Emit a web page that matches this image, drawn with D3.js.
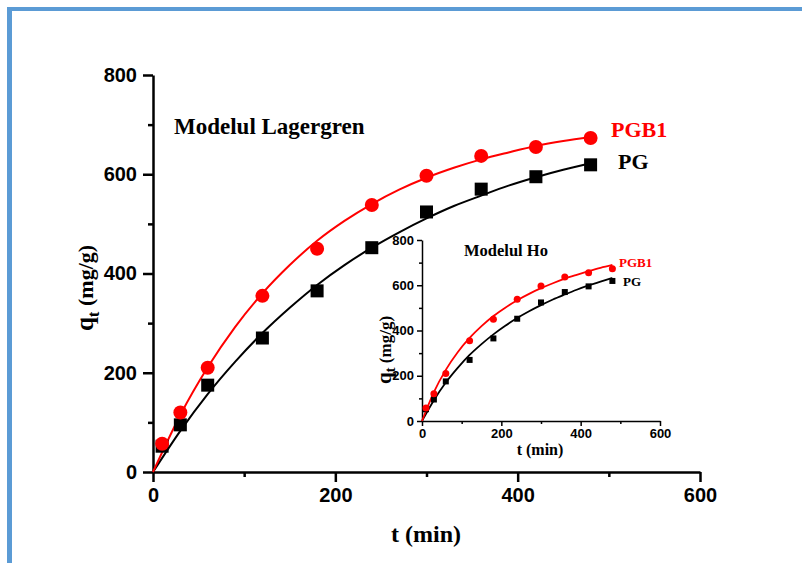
<!DOCTYPE html>
<html>
<head>
<meta charset="utf-8">
<script src="https://cdn.jsdelivr.net/npm/d3@7"></script>
<style>
  body { margin: 0; background: #fff; }
  svg { display: block; }
</style>
</head>
<body>
<svg width="802" height="563"></svg>
<script>
// experimental points (t in min, q in mg/g)
const tData = [10, 30, 60, 120, 180, 240, 300, 360, 420, 480];
const pgData = [52, 95, 175, 270, 365, 452, 524, 570, 595, 619];
const pgb1Data = [57, 120, 210, 355, 450, 538, 597, 637, 655, 673];

// fitted curves
const tFit = [0, 30, 60, 90, 120, 150, 180, 210, 240, 270, 300, 330, 360, 390, 420, 450, 480];
const pgLager = [0, 83, 157, 222, 280, 331, 377, 417, 452, 483, 511, 536, 557, 577, 594, 609, 622];
const pgb1Lager = [0, 115, 211, 292, 360, 417, 466, 506, 540, 569, 593, 613, 630, 644, 657, 667, 675];
const pgHo = [0, 92, 170, 235, 292, 340, 383, 421, 455, 485, 512, 537, 559, 580, 599, 616, 632];
const pgb1Ho = [0, 128, 226, 304, 367, 419, 464, 501, 534, 562, 587, 609, 629, 646, 662, 677, 690];

const xTicks = [0, 200, 400, 600];
const xMinor = [100, 300, 500];
const yTicks = [0, 200, 400, 600, 800];
const yMinor = [100, 300, 500, 700];

const svg = d3.select('svg');

// blue frame on top and left
svg.append('rect').attr('x', 7).attr('y', 7).attr('width', 795).attr('height', 4).attr('fill', '#5b9bd5');
svg.append('rect').attr('x', 7).attr('y', 7).attr('width', 5).attr('height', 556).attr('fill', '#5b9bd5');

function drawPanel(g, o) {
    const x = d3.scaleLinear().domain([0, 600]).range([o.x0, o.x1]);
    const y = d3.scaleLinear().domain([0, 800]).range([o.y0, o.y1]);

    // minor ticks
    g.append('g')
        .attr('transform', `translate(0, ${o.y0})`)
        .call(d3.axisBottom(x).tickValues(xMinor).tickSize(o.minor).tickFormat(''))
        .call(a => a.select('.domain').remove())
        .call(a => a.selectAll('line').attr('stroke-width', o.sw));
    g.append('g')
        .attr('transform', `translate(${o.x0}, 0)`)
        .call(d3.axisLeft(y).tickValues(yMinor).tickSize(o.minor).tickFormat(''))
        .call(a => a.select('.domain').remove())
        .call(a => a.selectAll('line').attr('stroke-width', o.sw));

    const xa = g.append('g')
        .attr('transform', `translate(0, ${o.y0})`)
        .call(d3.axisBottom(x).tickValues(xTicks).tickSizeInner(o.major).tickSizeOuter(0).tickPadding(o.pad));
    const ya = g.append('g')
        .attr('transform', `translate(${o.x0}, 0)`)
        .call(d3.axisLeft(y).tickValues(yTicks).tickSizeInner(o.major).tickSizeOuter(0).tickPadding(o.pad));
    [xa, ya].forEach(a => {
        a.select('.domain').attr('stroke-width', o.sw).attr('stroke', '#000');
        a.selectAll('line').attr('stroke-width', o.sw).attr('stroke', '#000');
        a.selectAll('text')
            .attr('font-family', 'Liberation Sans, Arial, sans-serif')
            .attr('font-weight', 'bold')
            .attr('font-size', o.tickFont)
            .attr('fill', '#000');
    });

    const line = d3.line().x((d, i) => x(tFit[i])).y(d => y(d)).curve(d3.curveMonotoneX);
    g.append('path').datum(o.pgFit).attr('d', line)
        .attr('fill', 'none').attr('stroke', '#000').attr('stroke-width', o.lw);
    g.append('path').datum(o.pgb1Fit).attr('d', line)
        .attr('fill', 'none').attr('stroke', '#ff0000').attr('stroke-width', o.lw);

    g.selectAll('.sq').data(pgData).enter().append('rect')
        .attr('x', (d, i) => x(tData[i]) - o.sq / 2)
        .attr('y', d => y(d) - o.sq / 2)
        .attr('width', o.sq).attr('height', o.sq)
        .attr('fill', '#000');
    g.selectAll('.ci').data(pgb1Data).enter().append('circle')
        .attr('cx', (d, i) => x(tData[i]))
        .attr('cy', d => y(d))
        .attr('r', o.r)
        .attr('fill', '#ff0000');
    return { x, y };
}

// main panel
const main = svg.append('g');
drawPanel(main, {
    x0: 153, x1: 700, y0: 472, y1: 75,
    major: 10, minor: 5, pad: 6, sw: 2.5, lw: 2, tickFont: '20px',
    sq: 13, r: 7, pgFit: pgLager, pgb1Fit: pgb1Lager
});

const serif = 'Liberation Serif, Times New Roman, serif';

main.append('text').attr('x', 174).attr('y', 134)
    .attr('font-family', serif).attr('font-weight', 'bold').attr('font-size', '23px')
    .text('Modelul Lagergren');
main.append('text').attr('x', 611).attr('y', 137)
    .attr('font-family', serif).attr('font-weight', 'bold').attr('font-size', '22px')
    .attr('fill', '#ff0000').text('PGB1');
main.append('text').attr('x', 618).attr('y', 169)
    .attr('font-family', serif).attr('font-weight', 'bold').attr('font-size', '22px')
    .text('PG');

main.append('text').attr('x', 426).attr('y', 542).attr('text-anchor', 'middle')
    .attr('font-family', serif).attr('font-weight', 'bold').attr('font-size', '24px')
    .text('t (min)');
const yl = main.append('text')
    .attr('transform', 'translate(93, 288) rotate(-90)')
    .attr('text-anchor', 'middle')
    .attr('font-family', serif).attr('font-weight', 'bold').attr('font-size', '22px');
yl.append('tspan').attr('font-size', '25px').text('q');
yl.append('tspan').attr('font-size', '17px').attr('dy', 6).text('t');
yl.append('tspan').attr('dy', -6).text(' (mg/g)');

// inset panel
const inset = svg.append('g');
drawPanel(inset, {
    x0: 422, x1: 660, y0: 421, y1: 240,
    major: 5, minor: 3, pad: 3, sw: 1.5, lw: 1.8, tickFont: '13px',
    sq: 6, r: 3.5, pgFit: pgHo, pgb1Fit: pgb1Ho
});

inset.append('text').attr('x', 464).attr('y', 256)
    .attr('font-family', serif).attr('font-weight', 'bold').attr('font-size', '16.5px')
    .text('Modelul Ho');
inset.append('text').attr('x', 619).attr('y', 267)
    .attr('font-family', serif).attr('font-weight', 'bold').attr('font-size', '13px')
    .attr('fill', '#ff0000').text('PGB1');
inset.append('text').attr('x', 623).attr('y', 286)
    .attr('font-family', serif).attr('font-weight', 'bold').attr('font-size', '13px')
    .text('PG');
inset.append('text').attr('x', 540).attr('y', 455).attr('text-anchor', 'middle')
    .attr('font-family', serif).attr('font-weight', 'bold').attr('font-size', '16px')
    .text('t (min)');
const yl2 = inset.append('text')
    .attr('transform', 'translate(391, 350) rotate(-90)')
    .attr('text-anchor', 'middle')
    .attr('font-family', serif).attr('font-weight', 'bold').attr('font-size', '17px');
yl2.append('tspan').attr('font-size', '21px').text('q');
yl2.append('tspan').attr('font-size', '15px').attr('dy', 4).text('t');
yl2.append('tspan').attr('dy', -4).text(' (mg/g)');
</script>
</body>
</html>
